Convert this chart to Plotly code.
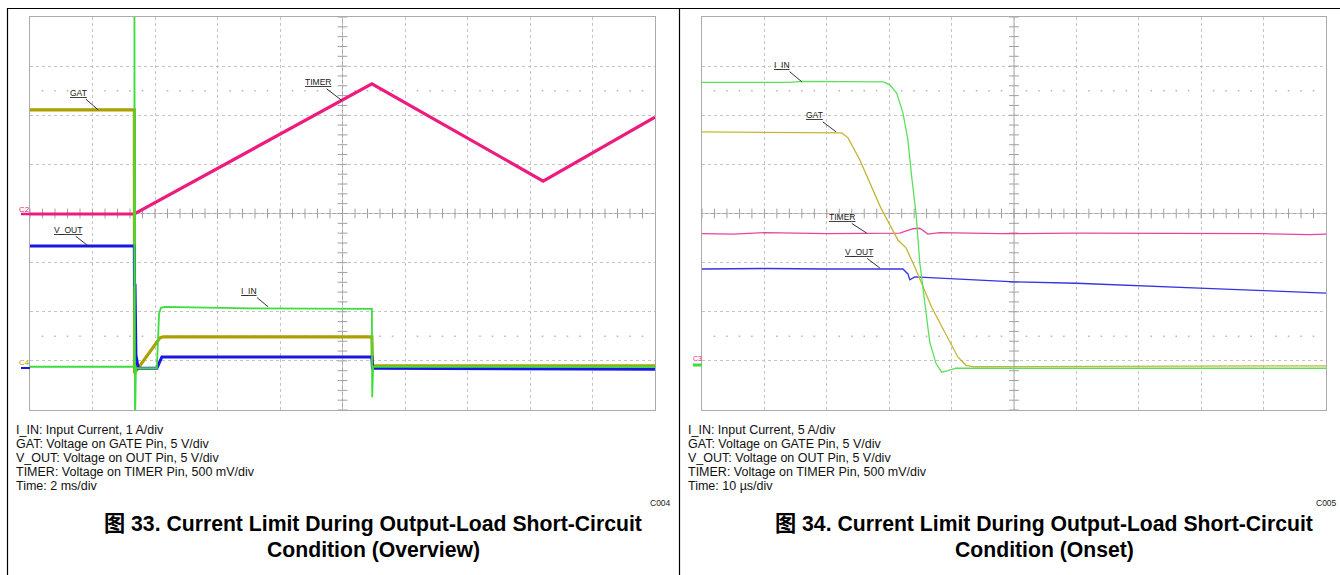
import numpy as np
import plotly.graph_objects as go

W, H = 1340, 575

# ---------------- Left scope: 2 ms/div (x in ms, 0..20), y in divisions from screen centre ----------------
L_GAT_t   = [0, 3.34, 3.345, 4.16, 4.26, 10.94, 10.96, 20]
L_GAT_v   = [2.11, 2.11, -3.25, -2.53, -2.51, -2.51, -3.10, -3.10]

L_TIMER_t = [0, 3.34, 10.94, 16.42, 20]
L_TIMER_v = [-0.01, -0.01, 2.64, 0.66, 1.96]

L_VOUT_t  = [0, 3.34, 3.345, 3.36, 3.39, 3.46, 4.06, 4.22, 10.94, 10.96, 20]
L_VOUT_v  = [-0.66, -0.66, -1.46, -1.46, -2.88, -3.15, -3.15, -2.92, -2.92, -3.15, -3.17]

L_IIN_t   = [0, 3.34, 3.342, 3.36, 3.39, 4.06, 4.13, 4.19, 4.32, 7.04, 10.94, 10.95, 10.98, 20]
L_IIN_v   = [-3.12, -3.12, 4.3, -4.3, -3.15, -3.15, -2.04, -1.92, -1.90, -1.93, -1.94, -3.74, -3.12, -3.12]

# ---------------- Right scope: 10 us/div (x in us, 0..100), y in divisions ----------------
R_IIN_t   = [0, 14.1, 16.0, 29.1, 30.1, 31.2, 32.2, 33.0, 33.6, 34.3, 34.9, 35.7, 36.5, 37.5, 38.4, 39.4, 40.7, 100]
R_IIN_v   = [2.67, 2.67, 2.69, 2.68, 2.62, 2.45, 2.05, 1.50, 0.75, 0.0, -1.0, -1.85, -2.62, -3.05, -3.23, -3.20, -3.15, -3.15]

R_GAT_t   = [0, 22.4, 23.4, 25.3, 28.6, 31.4, 32.7, 34.1, 36.8, 39.5, 41.0, 42.3, 43.7, 100]
R_GAT_v   = [1.66, 1.64, 1.54, 1.09, 0.13, -0.54, -0.70, -1.09, -1.91, -2.58, -2.92, -3.09, -3.12, -3.10]

R_TIMER_t = [0, 5, 10, 20, 31.7, 33.8, 34.9, 36.2, 38.1, 47.7, 60, 79.7, 90, 97.4, 100]
R_TIMER_v = [-0.41, -0.42, -0.39, -0.41, -0.40, -0.31, -0.30, -0.42, -0.39, -0.41, -0.40, -0.40, -0.41, -0.43, -0.42]

R_VOUT_t  = [0, 10, 20, 32.2, 33.0, 33.3, 34.1, 40, 50.1, 60, 70.6, 79.7, 90, 100]
R_VOUT_v  = [-1.13, -1.12, -1.13, -1.13, -1.23, -1.35, -1.29, -1.33, -1.39, -1.42, -1.48, -1.52, -1.57, -1.62]

# labels: (text, x, y, target_x, target_y)
L_LABELS = [("GAT", 1.55, 2.46, 2.18, 2.11), ("TIMER", 9.22, 2.67, 9.98, 2.30),
            ("V_OUT", 1.20, -0.33, 1.86, -0.66), ("I_IN", 7.02, -1.58, 7.62, -1.90)]
R_LABELS = [("I_IN", 12.8, 3.02, 16.0, 2.68), ("GAT", 18.0, 2.0, 21.5, 1.66),
            ("TIMER", 22.4, -0.07, 26.4, -0.40), ("V_OUT", 25.1, -0.78, 28.5, -1.11)]

L_NOTES = ["I_IN: Input Current, 1 A/div", "GAT: Voltage on GATE Pin, 5 V/div",
           "V_OUT: Voltage on OUT Pin, 5 V/div", "TIMER: Voltage on TIMER Pin, 500 mV/div", "Time: 2 ms/div"]
R_NOTES = ["I_IN: Input Current, 5 A/div", "GAT: Voltage on GATE Pin, 5 V/div",
           "V_OUT: Voltage on OUT Pin, 5 V/div", "TIMER: Voltage on TIMER Pin, 500 mV/div", "Time: 10 µs/div"]
L_CAPTION = ["图 33. Current Limit During Output-Load Short-Circuit", "Condition (Overview)"]
R_CAPTION = ["图 34. Current Limit During Output-Load Short-Circuit", "Condition (Onset)"]

C_GAT, C_TIMER, C_VOUT, C_IIN = "#ABA000", "#EE1A7E", "#1818E0", "#3EDD3E"
C_GAT2, C_TIMER2, C_VOUT2, C_IIN2 = "#C2B636", "#E8449E", "#3434E0", "#5CE05C"
TRIG = "#B3A600"
FONT = "Liberation Sans, Arial, Noto Sans CJK SC, sans-serif"

fig = go.Figure()

def px(p):
    return p / W

def py(p):
    return 1 - p / H

GY0, GY1 = 17, 410
panels = [
    dict(xa="x", ya="y", x0=30, x1=655, tspan=20.0),
    dict(xa="x2", ya="y2", x0=702, x1=1326, tspan=100.0),
]

# decorations: centre ticks and dotted rows
for p in panels:
    dv = p["tspan"] / 10
    tx = np.arange(0, 50) * 0.2 * dv
    fig.add_trace(go.Scatter(x=tx, y=[0] * len(tx), xaxis=p["xa"], yaxis=p["ya"], mode="markers",
                             marker=dict(symbol="line-ns", size=7, line=dict(width=1, color="#A0A0A0")),
                             hoverinfo="skip", showlegend=False))
    ty = np.arange(-20, 21) * 0.2
    fig.add_trace(go.Scatter(x=[5 * dv] * len(ty), y=ty, xaxis=p["xa"], yaxis=p["ya"], mode="markers",
                             marker=dict(symbol="line-ew", size=7, line=dict(width=1, color="#A0A0A0")),
                             hoverinfo="skip", showlegend=False))
    dx = np.array([i * 0.2 * dv for i in range(51) if i % 5 != 0])
    for yy in (2.5, -2.5):
        fig.add_trace(go.Scatter(x=dx, y=[yy] * len(dx), xaxis=p["xa"], yaxis=p["ya"], mode="markers",
                                 marker=dict(symbol="square", size=1.6, color="#B8B8B8"),
                                 hoverinfo="skip", showlegend=False))

def line(t, v, color, width, xa, ya):
    fig.add_trace(go.Scatter(x=t, y=v, xaxis=xa, yaxis=ya, mode="lines",
                             line=dict(color=color, width=width), hoverinfo="skip", showlegend=False))

line(L_TIMER_t, L_TIMER_v, C_TIMER, 3.2, "x", "y")
line(L_GAT_t, L_GAT_v, C_GAT, 3.2, "x", "y")
line(L_VOUT_t, L_VOUT_v, C_VOUT, 3.0, "x", "y")
line(L_IIN_t, L_IIN_v, C_IIN, 1.8, "x", "y")

line(R_TIMER_t, R_TIMER_v, C_TIMER2, 1.3, "x2", "y2")
line(R_VOUT_t, R_VOUT_v, C_VOUT2, 1.3, "x2", "y2")
line(R_GAT_t, R_GAT_v, C_GAT2, 1.3, "x2", "y2")
line(R_IIN_t, R_IIN_v, C_IIN2, 1.3, "x2", "y2")

# trigger markers
fig.add_trace(go.Scatter(x=[L_GAT_t[1], 20.2], y=[-4.08, -0.08], xaxis="x", yaxis="y", mode="markers",
                         marker=dict(symbol=["triangle-up", "triangle-left"], size=7, color=TRIG),
                         cliponaxis=False, hoverinfo="skip", showlegend=False))
fig.add_trace(go.Scatter(x=[33.0, 100.6], y=[-4.08, -0.83], xaxis="x2", yaxis="y2", mode="markers",
                         marker=dict(symbol=["triangle-up", "triangle-left"], size=7, color=TRIG),
                         cliponaxis=False, hoverinfo="skip", showlegend=False))

ax_common = dict(showticklabels=False, ticks="", showgrid=True, gridcolor="#C4C4C4", griddash="dot",
                 gridwidth=1, zeroline=False, showline=True, mirror=True, linecolor="#ABABAB", linewidth=1,
                 fixedrange=True)
fig.update_layout(
    xaxis=dict(domain=[px(30), px(655)], range=[0, 20], dtick=2, anchor="y", **ax_common),
    yaxis=dict(domain=[py(GY1), py(GY0)], range=[-4, 4], dtick=1, anchor="x", **ax_common),
    xaxis2=dict(domain=[px(702), px(1326)], range=[0, 100], dtick=10, anchor="y2", **ax_common),
    yaxis2=dict(domain=[py(GY1), py(GY0)], range=[-4, 4], dtick=1, anchor="x2", **ax_common),
)

shapes = []
for p in panels:
    mid = p["tspan"] / 2
    shapes.append(dict(type="line", xref=p["xa"], yref=p["ya"], x0=mid, x1=mid, y0=-4, y1=4,
                       line=dict(color="#A8A8A8", width=1), layer="below"))
    shapes.append(dict(type="line", xref=p["xa"], yref=p["ya"], x0=0, x1=p["tspan"], y0=0, y1=0,
                       line=dict(color="#A8A8A8", width=1), layer="below"))
# outer frames
shapes += [
    dict(type="line", xref="paper", yref="paper", x0=px(7.5), x1=px(7.5), y0=py(8), y1=0, line=dict(color="black", width=1.2)),
    dict(type="line", xref="paper", yref="paper", x0=px(7.5), x1=1, y0=py(8.5), y1=py(8.5), line=dict(color="black", width=1.2)),
    dict(type="line", xref="paper", yref="paper", x0=px(679.5), x1=px(679.5), y0=py(8), y1=0, line=dict(color="black", width=1.2)),
]
# ground markers
shapes += [
    dict(type="line", xref="paper", yref="paper", x0=px(21), x1=px(30), y0=py(214), y1=py(214), line=dict(color=C_TIMER, width=2.5)),
    dict(type="line", xref="paper", yref="paper", x0=px(21), x1=px(30), y0=py(368), y1=py(368), line=dict(color=C_VOUT, width=2)),
    dict(type="line", xref="paper", yref="paper", x0=px(693), x1=px(702), y0=py(365), y1=py(365), line=dict(color=C_IIN, width=3)),
]

ann = []
def add_labels(labels, xa, ya):
    for txt, lx, ly, tx_, ty_ in labels:
        ann.append(dict(xref=xa, yref=ya, x=tx_, y=ty_, axref=xa, ayref=ya, ax=lx, ay=ly,
                        text=f"<span style='text-decoration:underline'>{txt}</span>",
                        showarrow=True, arrowhead=0, arrowwidth=1, arrowcolor="#303030",
                        font=dict(family=FONT, size=8.5, color="#202020")))

add_labels(L_LABELS, "x", "y")
add_labels(R_LABELS, "x2", "y2")

for base_x, notes in ((14, L_NOTES), (686, R_NOTES)):
    for i, t in enumerate(notes):
        ann.append(dict(xref="paper", yref="paper", x=px(base_x), y=py(430 + 14 * i), xanchor="left",
                        yanchor="middle", text=t, showarrow=False, font=dict(family=FONT, size=12.5, color="#111111")))

ann.append(dict(xref="paper", yref="paper", x=px(673), y=py(503), xanchor="right", yanchor="middle", text="C004",
                showarrow=False, font=dict(family=FONT, size=8.5, color="#222222")))
ann.append(dict(xref="paper", yref="paper", x=px(1339), y=py(503), xanchor="right", yanchor="middle", text="C005",
                showarrow=False, font=dict(family=FONT, size=8.5, color="#222222")))

for cx, cap in ((373, L_CAPTION), (1044, R_CAPTION)):
    for i, t in enumerate(cap):
        ann.append(dict(xref="paper", yref="paper", x=px(cx), y=py(524 + 26 * i), xanchor="center",
                        yanchor="middle", text=f"<b>{t}</b>", showarrow=False,
                        font=dict(family=FONT, size=21.2, color="#000000")))

ann += [
    dict(xref="paper", yref="paper", x=px(25), y=py(209), text="C2", showarrow=False, xanchor="center",
         yanchor="middle", font=dict(family=FONT, size=8, color=C_TIMER)),
    dict(xref="paper", yref="paper", x=px(25), y=py(362), text="C4", showarrow=False, xanchor="center",
         yanchor="middle", font=dict(family=FONT, size=8, color=C_GAT)),
    dict(xref="paper", yref="paper", x=px(697), y=py(358), text="C3", showarrow=False, xanchor="center",
         yanchor="middle", font=dict(family=FONT, size=7, color=C_TIMER)),
]

fig.update_layout(width=W, height=H, margin=dict(l=0, r=0, t=0, b=0), paper_bgcolor="white",
                  plot_bgcolor="white", shapes=shapes, annotations=ann, showlegend=False)
fig.write_html("out.html", config={"displayModeBar": False},
               post_script="document.body.style.margin='0';document.body.style.overflow='hidden';")
